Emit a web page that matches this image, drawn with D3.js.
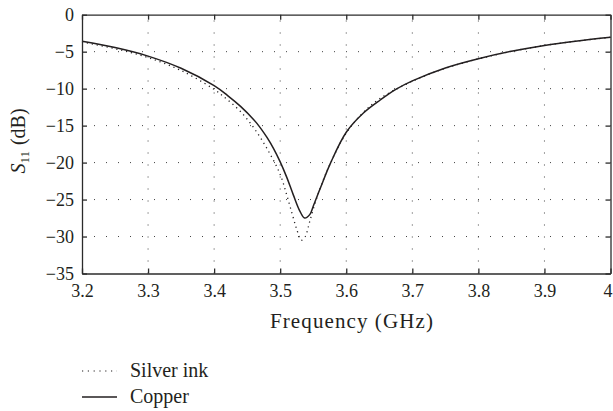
<!DOCTYPE html>
<html lang="en">

<head>
    <meta charset="UTF-8">
    <title>S11 vs Frequency</title>
    <script src="https://d3js.org/d3.v7.min.js"></script>
    <style>
        body { margin: 0; background: #fff; }
        svg text { font-family: "Liberation Serif", "Times New Roman", serif; fill: #231f20; }
    </style>
</head>

<body>

    <div id="chart"></div>

    <script>
        const width = 613;
        const height = 411;
        const serif = "'Liberation Serif', 'Times New Roman', serif";

        // tick values and labels
        const xTicks = [3.2, 3.3, 3.4, 3.5, 3.6, 3.7, 3.8, 3.9, 4.0];
        const xTickLabels = ["3.2", "3.3", "3.4", "3.5", "3.6", "3.7", "3.8", "3.9", "4"];
        const yTicks = [0, -5, -10, -15, -20, -25, -30, -35];

        // copper (solid)
        const copperFreq = [3.20, 3.25, 3.30, 3.35, 3.40, 3.42, 3.44, 3.46, 3.47, 3.48, 3.49, 3.50, 3.51, 3.52, 3.53, 3.537, 3.545, 3.55, 3.561, 3.576, 3.60, 3.626, 3.652, 3.675, 3.70, 3.75, 3.80, 3.85, 3.90, 3.95, 4.00];
        const copperDb = [-3.6, -4.45, -5.6, -7.25, -9.6, -10.9, -12.4, -14.2, -15.3, -16.6, -18.1, -19.9, -22.0, -24.4, -26.6, -27.5, -27.0, -25.9, -23.4, -20.1, -15.9, -13.3, -11.5, -10.1, -8.95, -7.2, -5.95, -4.95, -4.15, -3.55, -3.05];

        // silver ink (dotted)
        const silverFreq = [3.20, 3.25, 3.30, 3.35, 3.40, 3.42, 3.44, 3.46, 3.48, 3.50, 3.51, 3.518, 3.525, 3.532, 3.538, 3.544, 3.55, 3.56, 3.575, 3.60, 3.625, 3.65, 3.70, 3.75, 3.80, 3.85, 3.90, 3.95, 4.00];
        const silverDb = [-3.7, -4.6, -5.8, -7.55, -10.1, -11.5, -13.1, -15.3, -18.1, -21.6, -24.4, -26.9, -29.0, -30.5, -30.0, -28.2, -26.3, -23.6, -20.3, -16.0, -13.3, -11.4, -9.0, -7.25, -5.98, -4.97, -4.16, -3.56, -3.06];

        const seriesNames = ["Silver ink", "Copper"];

        const margin = { top: 14.7, right: 2.5, bottom: 137.5, left: 82 };

        const svg = d3.select("#chart")
            .append("svg")
            .attr("width", width)
            .attr("height", height)
            .style("display", "block");

        const x = d3.scaleLinear()
            .domain([3.2, 4.0])
            .range([margin.left, width - margin.right]);

        const y = d3.scaleLinear()
            .domain([-35, 0])
            .range([height - margin.bottom, margin.top]);

        const axisColor = "#2b2b2b";

        // dotted grid on interior ticks
        const grid = svg.append("g").attr("class", "grid");
        grid.selectAll(".vgrid")
            .data(xTicks.slice(1, -1))
            .enter()
            .append("line")
            .attr("x1", d => x(d)).attr("x2", d => x(d))
            .attr("y1", y(-35)).attr("y2", y(0))
            .attr("stroke", "#444")
            .attr("stroke-width", 1)
            .attr("stroke-dasharray", "1,11");
        grid.selectAll(".hgrid")
            .data(yTicks.slice(1, -1))
            .enter()
            .append("line")
            .attr("x1", x(3.2)).attr("x2", x(4.0))
            .attr("y1", d => y(d)).attr("y2", d => y(d))
            .attr("stroke", "#444")
            .attr("stroke-width", 1)
            .attr("stroke-dasharray", "1,11");

        // curves
        const line = d3.line()
            .x(d => x(d[0]))
            .y(d => y(d[1]))
            .curve(d3.curveCatmullRom.alpha(0.5));

        svg.append("path")
            .datum(d3.zip(silverFreq, silverDb))
            .attr("fill", "none")
            .attr("stroke", "#231f20")
            .attr("stroke-width", 1.3)
            .attr("stroke-dasharray", "1.2,3.8")
            .attr("d", line);

        svg.append("path")
            .datum(d3.zip(copperFreq, copperDb))
            .attr("fill", "none")
            .attr("stroke", "#231f20")
            .attr("stroke-width", 1.5)
            .attr("d", line);

        // axes with inward ticks
        svg.append("g")
            .attr("class", "x-axis")
            .attr("transform", `translate(0, ${y(-35)})`)
            .call(d3.axisBottom(x).tickValues(xTicks)
                .tickFormat((d, i) => xTickLabels[i])
                .tickSizeInner(-5).tickSizeOuter(0).tickPadding(11));

        svg.append("g")
            .attr("class", "y-axis")
            .attr("transform", `translate(${x(3.2)}, 0)`)
            .call(d3.axisLeft(y).tickValues(yTicks)
                .tickSizeInner(-5).tickSizeOuter(0).tickPadding(8));

        svg.append("g")
            .attr("transform", `translate(0, ${y(0)})`)
            .call(d3.axisTop(x).tickValues(xTicks).tickFormat("")
                .tickSizeInner(-5).tickSizeOuter(0));

        svg.append("g")
            .attr("transform", `translate(${x(4.0)}, 0)`)
            .call(d3.axisRight(y).tickValues(yTicks).tickFormat("")
                .tickSizeInner(-5).tickSizeOuter(0));

        svg.selectAll("g").attr("font-family", serif);
        svg.selectAll(".domain, .tick line")
            .attr("stroke", axisColor)
            .attr("stroke-width", 1.3);
        svg.selectAll(".tick text")
            .style("font-family", serif)
            .style("font-size", "18px")
            .attr("fill", "#231f20");

        // keep the last x label ("4") inside the picture
        svg.selectAll(".x-axis .tick text")
            .filter((d, i) => i === xTicks.length - 1)
            .attr("text-anchor", "end")
            .attr("dx", 1.5);

        // axis titles
        svg.append("text")
            .attr("x", 352)
            .attr("y", 328)
            .attr("text-anchor", "middle")
            .style("font-size", "21px")
            .style("letter-spacing", "1.1px")
            .text("Frequency (GHz)");

        const yLabel = svg.append("text")
            .attr("transform", "translate(25, 141) rotate(-90)")
            .attr("text-anchor", "middle")
            .style("font-size", "20px");
        yLabel.append("tspan").style("font-style", "italic").text("S");
        yLabel.append("tspan").attr("dy", 4).style("font-size", "13px").text("11");
        yLabel.append("tspan").attr("dy", -4).attr("dx", 6).text("(dB)");

        // legend
        const legend = svg.append("g").attr("class", "legend");
        const legendRows = [
            { name: seriesNames[0], dash: "1.2,4.6", lineY: 371, textY: 377 },
            { name: seriesNames[1], dash: null, lineY: 397, textY: 403 }
        ];
        legendRows.forEach(r => {
            legend.append("line")
                .attr("x1", 82).attr("x2", 117)
                .attr("y1", r.lineY).attr("y2", r.lineY)
                .attr("stroke", "#231f20")
                .attr("stroke-width", r.dash ? 1.2 : 1.4)
                .attr("stroke-dasharray", r.dash);
            legend.append("text")
                .attr("x", 130)
                .attr("y", r.textY)
                .style("font-size", "20px")
                .text(r.name);
        });
    </script>
</body>

</html>
